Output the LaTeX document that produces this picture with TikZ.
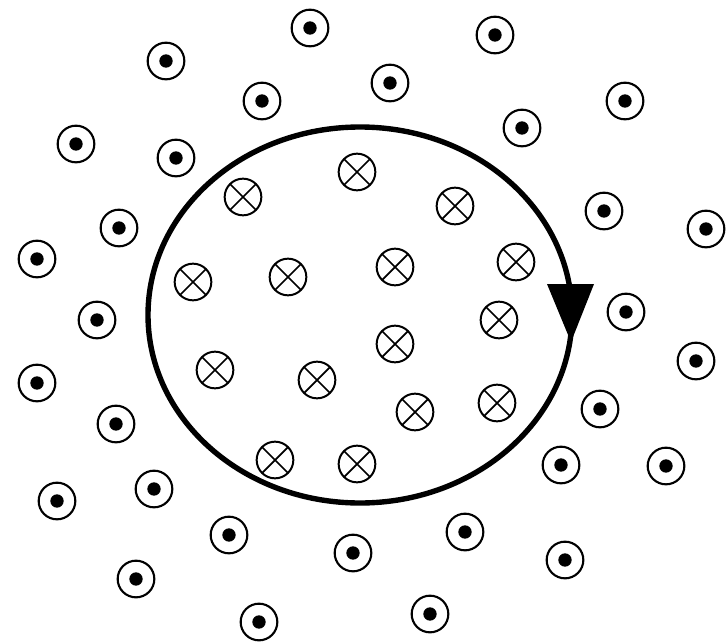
\documentclass[tikz,border=0pt]{standalone}
\usetikzlibrary{calc}

\begin{document}
\begin{tikzpicture}[
        x=0.03cm, y=-0.03cm,
        outsym/.style={circle, draw=black, line width=1.8pt, fill=white,
                       minimum size=1.1cm, inner sep=0pt,
                       path picture={\fill[black] (path picture bounding box.center) circle (0.2cm);}},
        insym/.style={circle, draw=black, line width=1.7pt, fill=white,
                      minimum size=1.1cm, inner sep=0pt,
                      path picture={\draw[line width=1.5pt]
                          (path picture bounding box.north west) -- (path picture bounding box.south east)
                          (path picture bounding box.north east) -- (path picture bounding box.south west);}},
        loop/.style={line width=4.6pt, black},
    ]
    \useasboundingbox (0,0) rectangle (727,643);

    % ===== Current loop (clockwise) =====
    \draw[loop] (360,315) ellipse [x radius=212, y radius=188];
    \fill[black] (547,284) -- (594,284) -- (571,342) -- cycle;

    % ===== Field into the page, inside the loop =====
    \foreach \p [count=\i] in {(357,172), (243,197), (455,206), (193,282), (288,277),
                               (395,267), (516,262), (499,320), (395,344), (215,370),
                               (317,380), (415,412), (497,403), (275,460), (357,464)}
        \node[insym] (in\i) at \p {};

    % ===== Field out of the page, outside the loop =====
    \foreach \p [count=\i] in {(310,28), (495,35), (166,61), (390,83), (262,101),
                               (625,101), (522,128), (76,144), (176,158), (604,211),
                               (119,228), (706,229), (37,259), (626,312), (97,320),
                               (696,361), (37,383), (600,409), (116,424), (561,465),
                               (666,466), (154,489), (57,501), (229,535), (465,532),
                               (353,553), (565,560), (136,579), (430,614), (259,622)}
        \node[outsym] (out\i) at \p {};

\end{tikzpicture}
\end{document}
